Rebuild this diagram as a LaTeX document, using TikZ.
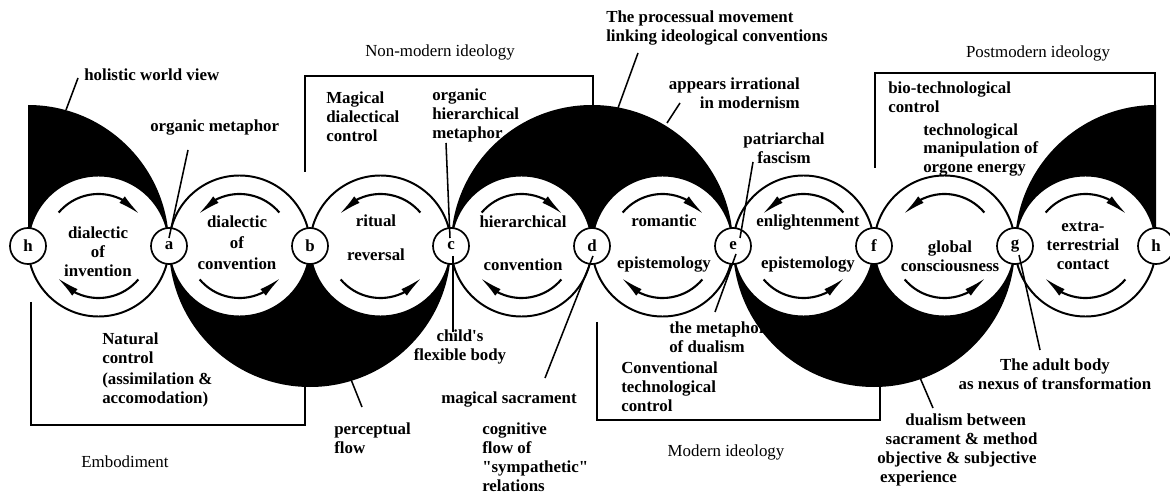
\documentclass[tikz,border=0pt]{standalone}
\usepackage{fontspec}
\setmainfont{Liberation Serif}
\usetikzlibrary{arrows.meta, bending}
\tikzset{
  % --- Circles -----------------------------------------------
  bigc/.style={line width=1.4pt},
  pt/.style={draw, circle, fill=white, line width=1.2pt, minimum size=0.9cm,
    inner sep=0pt, font=\fontsize{12}{13.5}\selectfont\bfseries},
  cres/.style={fill=black},
  cyc/.style={line width=1.5pt, -{Latex[length=16pt,width=6pt,flex]}},
  % --- Frames and leaders ------------------------------------
  frame/.style={line width=1.2pt},
  lead/.style={line width=1.1pt},
  % --- Texts -------------------------------------------------
  lbl/.style={font=\fontsize{12}{13.5}\selectfont\bfseries, align=left,
    inner sep=0pt, anchor=west},
  clbl/.style={font=\fontsize{12}{13.5}\selectfont\bfseries, align=center,
    inner sep=0pt},
  ideo/.style={font=\fontsize{12}{13.5}\selectfont, inner sep=0pt}
}
\begin{document}
\begin{tikzpicture}[x=0.025cm, y=0.025cm]
  \useasboundingbox (0,0) rectangle (1170,494);

  % --- Centres of the big circles ------------------------------
  \coordinate (o1) at (98.5,248);
  \coordinate (o2) at (239.5,248);
  \coordinate (o3) at (380.5,248);
  \coordinate (o4) at (521.5,248);
  \coordinate (o5) at (662.5,248);
  \coordinate (o6) at (803.5,248);
  \coordinate (o7) at (944.5,248);
  \coordinate (o8) at (1085.5,248);

  % --- Texts partly hidden by the black crescents ---------------
  \node[lbl] (ohm) at (432,379) {organic\\hierarchical\\metaphor};
  \node[lbl] (tmd) at (669,157) {the metaphor\\of dualism};
  \node[lbl] (tmo) at (923,344) {technological\\manipulation of\\orgone energy};

  % --- Frames ------------------------------------------------
  \draw[frame] (31,192) -- (31,69) -- (305,69) -- (305,112);
  \draw[frame] (305,322) -- (305,418) -- (593,418) -- (593,385);
  \draw[frame] (597,172) -- (597,74) -- (880,74) -- (880,110);
  \draw[frame] (875,326) -- (875,421) -- (1155,421) -- (1155,377);

  % --- Black crescents ---------------------------------------
  \fill[cres] (169,248) arc[start angle=0, end angle=180, radius=70.5]
    -- ++(0,141) arc[start angle=90, end angle=0, radius=141] -- cycle;
  \fill[cres] (169,248) arc[start angle=180, end angle=360, radius=70.5]
    arc[start angle=180, end angle=360, radius=70.5]
    arc[start angle=0, end angle=-180, radius=141] -- cycle;
  \fill[cres] (451,248) arc[start angle=180, end angle=0, radius=70.5]
    arc[start angle=180, end angle=0, radius=70.5]
    arc[start angle=0, end angle=180, radius=141] -- cycle;
  \fill[cres] (733,248) arc[start angle=180, end angle=360, radius=70.5]
    arc[start angle=180, end angle=360, radius=70.5]
    arc[start angle=0, end angle=-180, radius=141] -- cycle;
  \fill[cres] (1015,248) arc[start angle=180, end angle=0, radius=70.5]
    -- ++(0,141) arc[start angle=90, end angle=180, radius=141] -- cycle;

  % --- Big circles -------------------------------------------
  \draw[bigc] (o1) circle[radius=70.5];
  \draw[bigc] (o2) circle[radius=70.5];
  \draw[bigc] (o3) circle[radius=70.5];
  \draw[bigc] (o4) circle[radius=70.5];
  \draw[bigc] (o5) circle[radius=70.5];
  \draw[bigc] (o6) circle[radius=70.5];
  \draw[bigc] (o7) circle[radius=70.5];
  \draw[bigc] (o8) circle[radius=70.5];

  % --- Turning arrows (cw: 1,4,5,8 -- ccw: 2,3,6,7) -------------
  \draw[cyc] (o1) ++(140:52) arc[start angle=140, end angle=38, radius=52];
  \draw[cyc] (o1) ++(320:52) arc[start angle=320, end angle=218, radius=52];
  \draw[cyc] (o2) ++(40:52) arc[start angle=40, end angle=142, radius=52];
  \draw[cyc] (o2) ++(220:52) arc[start angle=220, end angle=322, radius=52];
  \draw[cyc] (o3) ++(40:52) arc[start angle=40, end angle=142, radius=52];
  \draw[cyc] (o3) ++(220:52) arc[start angle=220, end angle=322, radius=52];
  \draw[cyc] (o4) ++(140:52) arc[start angle=140, end angle=38, radius=52];
  \draw[cyc] (o4) ++(320:52) arc[start angle=320, end angle=218, radius=52];
  \draw[cyc] (o5) ++(140:52) arc[start angle=140, end angle=38, radius=52];
  \draw[cyc] (o5) ++(320:52) arc[start angle=320, end angle=218, radius=52];
  \draw[cyc] (o6) ++(40:52) arc[start angle=40, end angle=142, radius=52];
  \draw[cyc] (o6) ++(220:52) arc[start angle=220, end angle=322, radius=52];
  \draw[cyc] (o7) ++(40:52) arc[start angle=40, end angle=142, radius=52];
  \draw[cyc] (o7) ++(220:52) arc[start angle=220, end angle=322, radius=52];
  \draw[cyc] (o8) ++(140:52) arc[start angle=140, end angle=38, radius=52];
  \draw[cyc] (o8) ++(320:52) arc[start angle=320, end angle=218, radius=52];

  % --- Texts inside the big circles ----------------------------
  \node[clbl] (t1) at (98,242) {dialectic\\of\\invention};
  \node[clbl] (t2) at (237,251) {dialectic\\[1.5pt]of\\[1.5pt]convention};
  \node[clbl] (t3) at (376,256.5) {ritual\\[11pt]reversal};
  \node[clbl] (t4) at (523,250.5) {hierarchical\\[17pt]convention};
  \node[clbl] (t5) at (664,250.5) {romantic\\[17pt]epistemology};
  \node[clbl] (t6) at (808,250.5) {enlightenment\\[17pt]epistemology};
  \node[clbl] (t7) at (950,238) {global\\consciousness};
  \node[clbl] (t8) at (1083,248.5) {extra-\\terrestrial\\contact};

  % --- Small circles -----------------------------------------
  \node[pt] (h1) at (28,248) {h};
  \node[pt] (a) at (169,248) {a};
  \node[pt] (b) at (310,248) {b};
  \node[pt] (c) at (451,248) {c};
  \node[pt] (d) at (592,248) {d};
  \node[pt] (e) at (733,248) {e};
  \node[pt] (f) at (874,248) {f};
  \node[pt] (g) at (1015,248) {g};
  \node[pt] (h2) at (1156,248) {h};

  % --- Headings ----------------------------------------------
  \node[ideo] (emb) at (125,32) {Embodiment};
  \node[ideo] (nonm) at (440,442) {Non-modern ideology};
  \node[ideo] (mod) at (726,42) {Modern ideology};
  \node[ideo] (post) at (1038,441) {Postmodern ideology};

  % --- Labels ------------------------------------------------
  \node[lbl] (hwv) at (84,419) {holistic world view};
  \node[lbl] (om) at (150,366) {organic metaphor};
  \node[lbl] (mdc) at (326,377) {Magical\\dialectical\\control};
  \node[lbl] (pmv) at (606,466) {The processual movement\\linking ideological conventions};
  \node[lbl, anchor=east, align=right] (air) at (800,401) {appears irrational\\in modernism};
  \node[clbl] (pfa) at (784,346) {patriarchal\\fascism};
  \node[lbl] (btc) at (888,397) {bio-technological\\control};
  \node[lbl] (nat) at (102,124) {Natural\\control\\[2pt](assimilation \&\\accomodation)};
  \node[clbl] (chb) at (460,147) {child\textquotesingle s\\flexible body};
  \node[lbl] (pfl) at (334,56) {perceptual\\flow};
  \node[clbl] (ms) at (509,94) {magical sacrament};
  \node[lbl] (cog) at (482,37) {cognitive\\flow of\\\textquotedbl sympathetic\textquotedbl\\relations};
  \node[lbl] (ctc) at (621,107) {Conventional\\technological\\control};
  \node[lbl] (dbs) at (877,44) {\hspace*{20pt}dualism between\\\hspace*{6pt}sacrament \& method\\objective \& subjective\\\hspace*{2pt}experience};
  \node[clbl] (adb) at (1055,120) {The adult body\\as nexus of transformation};

  % --- Leader lines ------------------------------------------
  \coordinate (hwv-s) at (78,416);  \coordinate (hwv-e) at (66,384);
  \coordinate (om-s) at (188,344);  \coordinate (om-e) at (169,256);
  \coordinate (ohm-s) at (446,351); \coordinate (ohm-e) at (450,256);
  \coordinate (pmv-s) at (638,441); \coordinate (pmv-e) at (618,386);
  \coordinate (air-s) at (680,391); \coordinate (air-e) at (667,371);
  \coordinate (pfa-s) at (753,332); \coordinate (pfa-e) at (740,256);
  \coordinate (chb-s) at (453,238); \coordinate (chb-e) at (453,162);
  \coordinate (pfl-s) at (350,117); \coordinate (pfl-e) at (362,87);
  \coordinate (ms-s) at (593,238);  \coordinate (ms-e) at (545,116);
  \coordinate (tmd-s) at (736,240); \coordinate (tmd-e) at (715,182);
  \coordinate (dbs-s) at (918,121); \coordinate (dbs-e) at (933,86);
  \coordinate (adb-s) at (1019,239); \coordinate (adb-e) at (1040,144);
  \draw[lead] (hwv-s) -- (hwv-e);
  \draw[lead] (om-s) -- (om-e);
  \draw[lead] (ohm-s) -- (ohm-e);
  \draw[lead] (pmv-s) -- (pmv-e);
  \draw[lead] (air-s) -- (air-e);
  \draw[lead] (pfa-s) -- (pfa-e);
  \draw[lead] (chb-s) -- (chb-e);
  \draw[lead] (pfl-s) -- (pfl-e);
  \draw[lead] (ms-s) -- (ms-e);
  \draw[lead] (tmd-s) -- (tmd-e);
  \draw[lead] (dbs-s) -- (dbs-e);
  \draw[lead] (adb-s) -- (adb-e);

\end{tikzpicture}
\end{document}
